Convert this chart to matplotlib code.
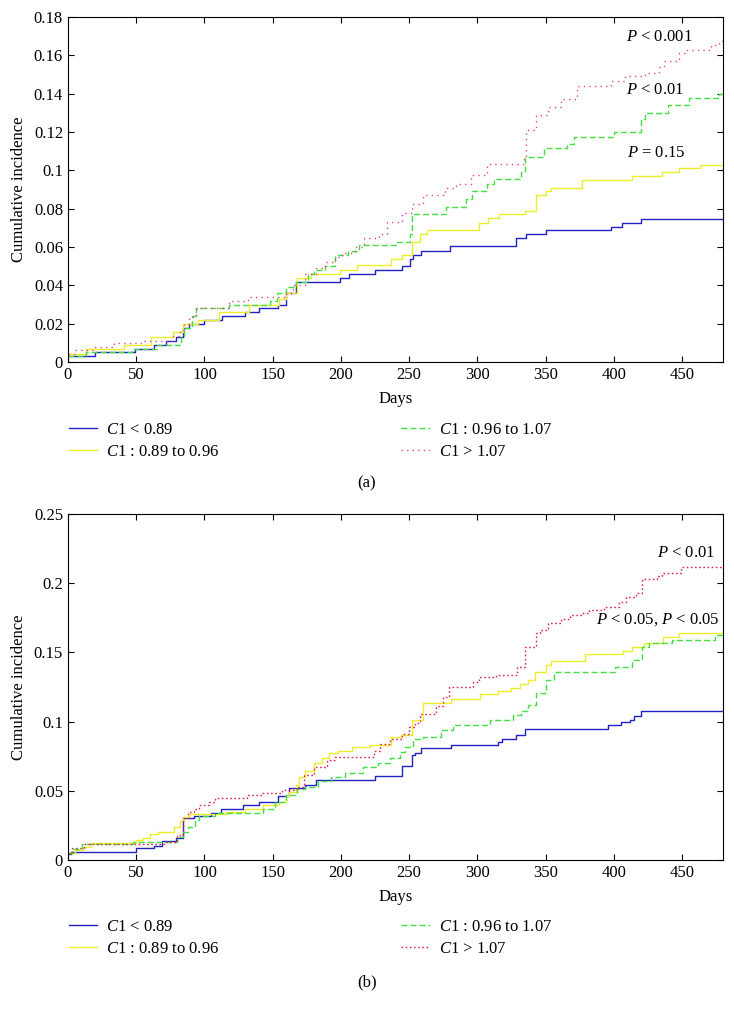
import matplotlib
matplotlib.use("Agg")
import matplotlib.pyplot as plt
from matplotlib.ticker import FuncFormatter
import numpy as np

plt.rcParams["font.family"] = ["Liberation Serif", "DejaVu Serif"]
plt.rcParams["mathtext.fontset"] = "custom"
plt.rcParams["mathtext.rm"] = "Liberation Serif"
plt.rcParams["mathtext.it"] = "Liberation Serif:italic"

X_MAX = 480
X_TICKS = [0, 50, 100, 150, 200, 250, 300, 350, 400, 450]
LABELS = ["$C$1 < 0.89", "$C$1 : 0.89 to 0.96", "$C$1 : 0.96 to 1.07", "$C$1 > 1.07"]

# ---- panel (a) ----
blue_a_days = [0, 20, 49, 63, 72, 79, 84, 89, 100, 113, 130, 140, 154, 160, 167, 199, 206,
               225, 245, 251, 253, 259, 280, 328, 336, 350, 398, 406, 420]
blue_a_vals = [0.003, 0.005, 0.007, 0.009, 0.011, 0.013, 0.0175, 0.020, 0.022, 0.024, 0.026,
               0.028, 0.030, 0.036, 0.042, 0.044, 0.046, 0.048, 0.050, 0.054, 0.056, 0.058,
               0.0605, 0.0645, 0.0666, 0.0687, 0.0706, 0.0727, 0.0747]
yellow_a_days = [0, 13, 41, 61, 77, 84, 95, 111, 133, 155, 160, 168, 178, 199, 212, 237, 245,
                 252, 258, 263, 301, 308, 316, 335, 343, 350, 354, 377, 413, 435, 448, 463]
yellow_a_vals = [0.004, 0.007, 0.009, 0.013, 0.0157, 0.0197, 0.022, 0.026, 0.030, 0.033,
                 0.036, 0.044, 0.046, 0.048, 0.0506, 0.054, 0.056, 0.0624, 0.0666, 0.069,
                 0.0727, 0.075, 0.077, 0.079, 0.087, 0.089, 0.091, 0.095, 0.097, 0.099,
                 0.101, 0.103]
green_a_days = [0, 13, 47, 65, 83, 85, 91, 94, 118, 148, 153, 160, 167, 176, 180, 188, 196,
                205, 213, 241, 251, 252, 277, 292, 296, 307, 312, 332, 335, 349, 366, 371,
                400, 420, 423, 440, 455, 477]
green_a_vals = [0.003, 0.005, 0.007, 0.009, 0.0135, 0.018, 0.024, 0.028, 0.030, 0.032, 0.036,
                0.039, 0.042, 0.046, 0.048, 0.050, 0.056, 0.058, 0.061, 0.0624, 0.067, 0.077,
                0.081, 0.085, 0.089, 0.093, 0.0953, 0.0993, 0.107, 0.1115, 0.114, 0.1175,
                0.120, 0.127, 0.1297, 0.134, 0.138, 0.1397]
red_a_days = [0, 5, 20, 34, 55, 77, 82, 85, 89, 94, 118, 132, 160, 165, 174, 182, 188, 196,
              201, 210, 217, 228, 234, 245, 252, 260, 276, 284, 295, 307, 334, 336, 343, 352,
              361, 373, 398, 408, 423, 433, 437, 448, 452, 471, 477]
red_a_vals = [0.004, 0.006, 0.0078, 0.010, 0.011, 0.0134, 0.0166, 0.0197, 0.0235, 0.028,
              0.032, 0.034, 0.036, 0.040, 0.046, 0.049, 0.052, 0.055, 0.057, 0.060, 0.0645,
              0.067, 0.073, 0.0776, 0.0825, 0.087, 0.0907, 0.093, 0.0977, 0.1035, 0.107,
              0.121, 0.129, 0.133, 0.137, 0.144, 0.1465, 0.149, 0.151, 0.154, 0.157, 0.161,
              0.163, 0.1656, 0.1675]
p_text_a = ["$P$ < 0.001", "$P$ < 0.01", "$P$ = 0.15"]
p_pos_a = [(409, 0.1696), (409, 0.142), (409.5, 0.109)]

# ---- panel (b) ----
blue_b_days = [0, 2, 50, 63, 69, 79, 84, 92, 105, 112, 128, 140, 154, 162, 174, 182, 225,
               245, 252, 254, 259, 281, 315, 318, 328, 335, 396, 405, 412, 415, 420]
blue_b_vals = [0.004, 0.0055, 0.0084, 0.010, 0.0135, 0.016, 0.030, 0.032, 0.034, 0.037,
               0.040, 0.042, 0.046, 0.052, 0.0545, 0.058, 0.061, 0.068, 0.0759, 0.0775,
               0.081, 0.083, 0.085, 0.0875, 0.0904, 0.095, 0.0976, 0.0995, 0.1015, 0.1037,
               0.1075]
yellow_b_days = [0, 5, 11, 17, 50, 55, 60, 66, 78, 82, 84, 89, 116, 130, 143, 155, 160, 162,
                 167, 169, 174, 180, 186, 191, 198, 208, 221, 237, 244, 252, 260, 281, 302,
                 315, 325, 331, 337, 342, 350, 354, 379, 407, 413, 422, 436, 448]
yellow_b_vals = [0.005, 0.007, 0.0095, 0.012, 0.0145, 0.016, 0.0186, 0.0205, 0.024, 0.028,
                 0.031, 0.033, 0.035, 0.037, 0.040, 0.042, 0.046, 0.049, 0.054, 0.060, 0.064,
                 0.0703, 0.0735, 0.077, 0.079, 0.0814, 0.083, 0.0891, 0.090, 0.1011, 0.1137,
                 0.116, 0.120, 0.1221, 0.1243, 0.127, 0.130, 0.136, 0.1406, 0.144, 0.1486,
                 0.1507, 0.1541, 0.157, 0.1614, 0.1638]
green_b_days = [0, 4, 10, 48, 80, 84, 88, 93, 96, 108, 143, 152, 160, 168, 174, 183, 193, 203,
                216, 227, 236, 243, 247, 253, 260, 273, 282, 309, 326, 332, 337, 343, 350,
                356, 401, 413, 421, 426, 443, 474]
green_b_vals = [0.005, 0.008, 0.0116, 0.013, 0.0164, 0.020, 0.024, 0.029, 0.032, 0.034,
                0.037, 0.042, 0.047, 0.051, 0.053, 0.0573, 0.060, 0.0632, 0.0674, 0.0703,
                0.074, 0.078, 0.0819, 0.0872, 0.0891, 0.0939, 0.0975, 0.101, 0.105, 0.108,
                0.112, 0.1204, 0.1301, 0.1361, 0.1398, 0.1446, 0.154, 0.1567, 0.159, 0.1625]
red_b_days = [0, 3, 12, 72, 80, 84, 88, 92, 96, 103, 108, 131, 142, 157, 167, 173, 180, 190,
              196, 224, 229, 236, 245, 250, 254, 258, 270, 275, 279, 297, 301, 314, 329, 335,
              343, 346, 352, 361, 368, 376, 382, 393, 404, 409, 416, 421, 432, 435, 449]
red_b_vals = [0.005, 0.0084, 0.0115, 0.0132, 0.018, 0.030, 0.035, 0.037, 0.040, 0.042,
              0.0445, 0.047, 0.0486, 0.0506, 0.053, 0.0614, 0.0675, 0.0722, 0.0747, 0.079,
              0.0838, 0.0872, 0.091, 0.0963, 0.0992, 0.1055, 0.1113, 0.118, 0.1252, 0.1288,
              0.132, 0.1337, 0.1397, 0.1542, 0.1638, 0.166, 0.171, 0.174, 0.177, 0.1785,
              0.1806, 0.183, 0.1866, 0.190, 0.193, 0.2027, 0.205, 0.2076, 0.212]
p_text_b = ["$P$ < 0.01", "$P$ < 0.05, $P$ < 0.05"]
p_pos_b = [(431.5, 0.222), (386.7, 0.1734)]

BLUE = "#2222c4"
YELLOW = "#eeee28"
GREEN = "#3fe03f"
FS = 12


def draw_panel(ax, series, ylim, yticks, p_texts, p_pos):
    for days, vals, color, ls in series:
        x = np.append(days, X_MAX)
        y = np.append(vals, vals[-1])
        ax.step(x, y, where="post", color=color, ls=ls, lw=1.0)
    ax.set_xlim(0, X_MAX)
    ax.set_ylim(*ylim)
    ax.set_xticks(X_TICKS)
    ax.set_yticks(yticks)
    ax.yaxis.set_major_formatter(FuncFormatter(lambda v, _: f"{v:g}"))
    ax.tick_params(direction="in", top=True, right=True, length=4.5, labelsize=FS)
    ax.set_xlabel("Days", fontsize=FS, labelpad=6)
    ax.set_ylabel("Cumulative incidence", fontsize=FS, labelpad=5)
    for txt, (px, py) in zip(p_texts, p_pos):
        ax.text(px, py, txt, fontsize=FS, ha="left", va="center")


def draw_legend(fig, lines, top):
    kw = dict(loc="upper left", frameon=False, fontsize=FS, borderpad=0,
              borderaxespad=0, handlelength=1.7, handletextpad=0.55, labelspacing=0.35)
    fig.legend(lines[:2], LABELS[:2], bbox_to_anchor=(0.094, top), **kw)
    fig.legend(lines[2:], LABELS[2:], bbox_to_anchor=(0.547, top), **kw)


fig = plt.figure(figsize=(7.34, 10.14), dpi=100)
ax_a = fig.add_axes([0.0926, 0.643, 0.8924, 0.3402])
ax_b = fig.add_axes([0.0926, 0.1519, 0.8924, 0.3412])

series_a = [(blue_a_days, blue_a_vals, BLUE, "-"),
            (yellow_a_days, yellow_a_vals, YELLOW, "-"),
            (green_a_days, green_a_vals, GREEN, (0, (4.3, 2.2))),
            (red_a_days, red_a_vals, "#e8487a", (0, (1, 3)))]
series_b = [(blue_b_days, blue_b_vals, BLUE, "-"),
            (yellow_b_days, yellow_b_vals, YELLOW, "-"),
            (green_b_days, green_b_vals, GREEN, (0, (4.3, 2.2))),
            (red_b_days, red_b_vals, "#dc2456", (0, (1.2, 1.8)))]

draw_panel(ax_a, series_a, (0, 0.18), np.arange(0, 0.181, 0.02), p_text_a, p_pos_a)
draw_panel(ax_b, series_b, (0, 0.25), np.arange(0, 0.251, 0.05), p_text_b, p_pos_b)

draw_legend(fig, ax_a.get_lines(), 1 - 422 / 1014)
draw_legend(fig, ax_b.get_lines(), 1 - 919 / 1014)

fig.text(0.5, 1 - 483 / 1014, "(a)", ha="center", va="center", fontsize=FS)
fig.text(0.5, 1 - 982 / 1014, "(b)", ha="center", va="center", fontsize=FS)

fig.savefig("out.png", dpi=100)
